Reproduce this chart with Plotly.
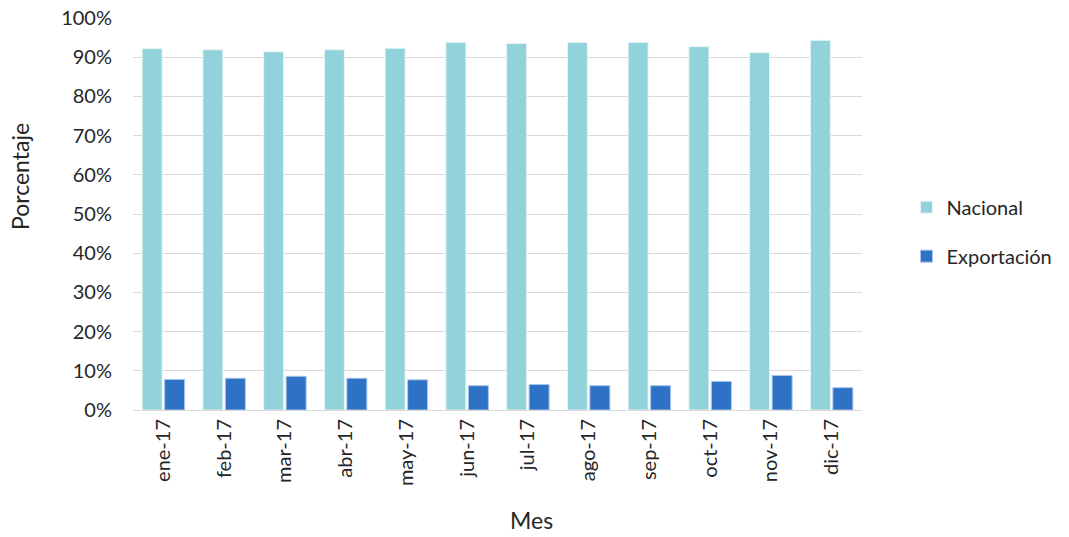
import plotly.graph_objects as go

meses = ["ene-17", "feb-17", "mar-17", "abr-17", "may-17", "jun-17",
         "jul-17", "ago-17", "sep-17", "oct-17", "nov-17", "dic-17"]
nacional = [0.922, 0.919, 0.914, 0.919, 0.923, 0.938, 0.935, 0.938, 0.938, 0.927, 0.912, 0.943]
exportacion = [0.078, 0.081, 0.086, 0.081, 0.077, 0.062, 0.065, 0.062, 0.062, 0.073, 0.088, 0.057]
ytick_vals = [0, 0.1, 0.2, 0.3, 0.4, 0.5, 0.6, 0.7, 0.8, 0.9, 1.0]
ytick_text = ["0%", "10%", "20%", "30%", "40%", "50%", "60%", "70%", "80%", "90%", "100%"]

FONT = "Lato, Open Sans, sans-serif"
TXT = "#262626"

fig = go.Figure()
fig.add_trace(go.Bar(x=meses, y=nacional, name="Nacional", legendgroup="a",
                     marker=dict(color="#92D2DB", line=dict(color="#E8F5F7", width=1))))
fig.add_trace(go.Bar(x=meses, y=exportacion, name="Exportación", legendgroup="b",
                     marker=dict(color="#2E72C6", line=dict(color="#A9C5EA", width=1))))

fig.update_layout(
    width=1069, height=537,
    margin=dict(l=133, r=207, t=18, b=127, autoexpand=False),
    paper_bgcolor="white", plot_bgcolor="white",
    font=dict(family=FONT, size=20, color=TXT),
    barmode="group", bargap=0.26, bargroupgap=0.11,
    showlegend=True,
    legend=dict(x=1.061, y=0.455, yanchor="middle", xanchor="left",
                font=dict(size=20, color=TXT), tracegroupgap=20,
                itemwidth=30),
    xaxis=dict(tickangle=-90, showline=True, linecolor="#D9D9D9", linewidth=1,
               ticks="", automargin=False, tickfont=dict(size=20)),
    yaxis=dict(range=[0, 1.0], tickvals=ytick_vals, ticktext=ytick_text,
               gridcolor="#D9D9D9", gridwidth=1, zeroline=False,
               ticklabelstandoff=20, automargin=False,
               tickfont=dict(size=20)),
    annotations=[
        dict(text="Mes", xref="paper", yref="paper",
             x=(531 - 133) / 729, y=-(520 - 410) / 392,
             xanchor="center", yanchor="middle", showarrow=False,
             borderpad=0, font=dict(size=23, color=TXT)),
        dict(text="Porcentaje", xref="paper", yref="paper",
             x=-(133 - 20) / 729, y=(410 - 177) / 392, textangle=-90,
             xanchor="center", yanchor="middle", showarrow=False,
             font=dict(size=23, color=TXT)),
    ],
)

fig.write_html("out.html")
